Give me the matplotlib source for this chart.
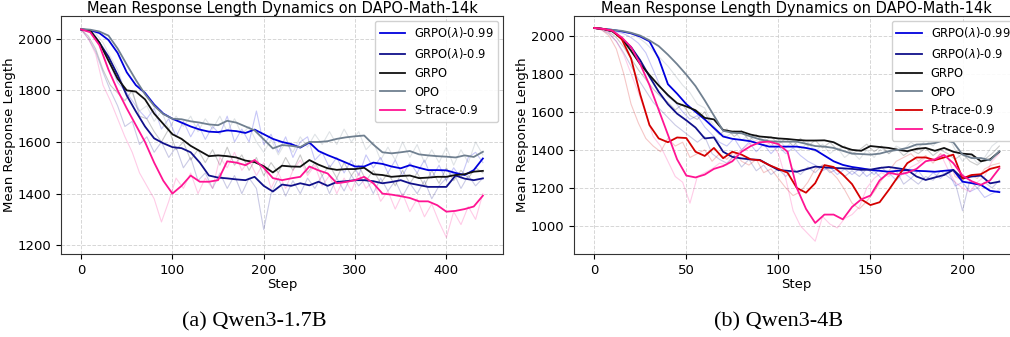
import matplotlib
matplotlib.use("Agg")
import matplotlib.pyplot as plt
import numpy as np

# ---- data ----
# left panel: Qwen3-1.7B, smoothed every 10 steps, raw every 8 steps
steps_a = np.arange(0, 441, 10)
raw_steps_a = np.arange(0, 441, 8)

opo_a = [2038, 2035, 2028, 2012, 1962, 1900, 1840, 1785, 1740, 1708, 1690, 1688, 1680, 1675, 1668,
         1665, 1682, 1675, 1660, 1645, 1610, 1575, 1588, 1585, 1580, 1600, 1600, 1603, 1612, 1618,
         1622, 1625, 1590, 1560, 1556, 1560, 1565, 1552, 1548, 1545, 1543, 1540, 1548, 1542, 1562]
g099_a = [2036, 2033, 2022, 1995, 1945, 1870, 1820, 1790, 1745, 1710, 1690, 1675, 1660, 1648, 1640,
          1638, 1645, 1642, 1635, 1648, 1630, 1612, 1600, 1592, 1578, 1598, 1565, 1549, 1535, 1520,
          1505, 1505, 1520, 1515, 1505, 1498, 1510, 1500, 1491, 1491, 1490, 1480, 1472, 1491, 1536]
g09_a = [2036, 2030, 1985, 1930, 1860, 1780, 1718, 1660, 1614, 1595, 1580, 1576, 1560, 1520, 1470,
         1462, 1459, 1455, 1452, 1465, 1430, 1408, 1435, 1430, 1440, 1432, 1446, 1430, 1445, 1448,
         1452, 1452, 1448, 1440, 1445, 1452, 1440, 1433, 1426, 1426, 1426, 1470, 1458, 1452, 1459]
grpo_a = [2036, 2032, 1985, 1915, 1845, 1800, 1795, 1765, 1710, 1670, 1630, 1612, 1585, 1565, 1545,
          1548, 1545, 1540, 1528, 1522, 1506, 1482, 1508, 1505, 1504, 1530, 1512, 1498, 1492, 1495,
          1495, 1500, 1475, 1472, 1465, 1468, 1470, 1460, 1462, 1465, 1465, 1472, 1475, 1485, 1488]
strace_a = [2036, 2025, 1975, 1880, 1800, 1730, 1665, 1600, 1520, 1450, 1400, 1430, 1470, 1446, 1446,
            1452, 1525, 1520, 1510, 1530, 1500, 1460, 1452, 1459, 1465, 1505, 1490, 1478, 1440, 1445,
            1452, 1465, 1440, 1400, 1396, 1390, 1383, 1370, 1370, 1355, 1330, 1333, 1340, 1350, 1392]

opo_a_raw = [2040, 2030, 2020, 1985, 1930, 1880, 1800, 1790, 1720, 1740, 1680, 1720, 1650, 1700,
             1660, 1700, 1640, 1690, 1650, 1700, 1640, 1690, 1630, 1660, 1600, 1560, 1610, 1550,
             1600, 1560, 1620, 1580, 1630, 1590, 1640, 1590, 1650, 1600, 1640, 1570, 1600, 1530,
             1580, 1530, 1600, 1540, 1590, 1520, 1570, 1520, 1580, 1510, 1570, 1520, 1600, 1550]
g099_a_raw = [2036, 2030, 2010, 1960, 1900, 1830, 1800, 1760, 1720, 1690, 1730, 1650, 1690, 1620,
              1680, 1620, 1670, 1610, 1660, 1630, 1700, 1600, 1650, 1600, 1720, 1590, 1630, 1560,
              1620, 1540, 1600, 1620, 1530, 1560, 1500, 1540, 1480, 1530, 1470, 1550, 1500, 1540,
              1480, 1530, 1470, 1520, 1480, 1530, 1460, 1510, 1450, 1500, 1460, 1540, 1560, 1520]
g09_a_raw = [2036, 2000, 1950, 1870, 1800, 1740, 1660, 1680, 1590, 1620, 1560, 1600, 1540, 1580,
             1500, 1540, 1450, 1480, 1420, 1480, 1420, 1470, 1400, 1460, 1420, 1260, 1400, 1460,
             1390, 1450, 1400, 1460, 1420, 1470, 1400, 1460, 1410, 1470, 1430, 1460, 1400, 1460,
             1410, 1450, 1390, 1440, 1400, 1450, 1380, 1430, 1460, 1480, 1420, 1470, 1430, 1460]
grpo_a_raw = [2036, 2010, 1960, 1880, 1820, 1790, 1760, 1800, 1700, 1690, 1640, 1600, 1650, 1570,
              1600, 1530, 1570, 1520, 1570, 1510, 1580, 1510, 1550, 1490, 1540, 1470, 1520, 1480,
              1540, 1490, 1550, 1480, 1520, 1470, 1510, 1460, 1520, 1470, 1510, 1450, 1490, 1440,
              1480, 1430, 1490, 1440, 1480, 1430, 1490, 1440, 1500, 1450, 1490, 1460, 1500, 1480]
strace_a_raw = [2036, 2000, 1940, 1820, 1760, 1690, 1620, 1560, 1480, 1430, 1380, 1290, 1370, 1460,
                1420, 1480, 1400, 1460, 1420, 1540, 1500, 1560, 1490, 1530, 1470, 1520, 1420, 1480,
                1420, 1490, 1530, 1470, 1510, 1430, 1470, 1400, 1460, 1410, 1480, 1420, 1450, 1370,
                1410, 1340, 1400, 1330, 1380, 1310, 1360, 1290, 1230, 1330, 1280, 1350, 1300, 1400]

# right panel: Qwen3-4B, smoothed every 5 steps, raw every 4 steps
steps_b = np.arange(0, 221, 5)
raw_steps_b = np.arange(0, 221, 4)

opo_b = [2040, 2035, 2030, 2025, 2015, 2000, 1975, 1945, 1900, 1850, 1795, 1735, 1660, 1580, 1500,
         1490, 1487, 1470, 1455, 1445, 1443, 1443, 1443, 1432, 1420, 1417, 1410, 1395, 1380, 1378,
         1375, 1380, 1393, 1400, 1410, 1428, 1430, 1436, 1450, 1440, 1375, 1357, 1357, 1345, 1393]
grpo_b = [2040, 2035, 2022, 1985, 1920, 1850, 1793, 1738, 1688, 1645, 1628, 1608, 1568, 1560, 1504,
          1496, 1496, 1480, 1470, 1466, 1460, 1457, 1452, 1449, 1449, 1450, 1440, 1415, 1400, 1395,
          1420, 1415, 1410, 1400, 1393, 1405, 1410, 1395, 1410, 1390, 1380, 1376, 1340, 1350, 1390]
g099_b = [2040, 2035, 2030, 2022, 2012, 1995, 1970, 1880, 1745, 1695, 1640, 1600, 1560, 1515, 1470,
          1458, 1452, 1445, 1430, 1417, 1417, 1417, 1417, 1410, 1400, 1370, 1340, 1321, 1310, 1303,
          1295, 1290, 1285, 1290, 1294, 1290, 1288, 1285, 1290, 1294, 1233, 1225, 1216, 1185, 1178]
g09_b = [2040, 2035, 2022, 1985, 1940, 1870, 1785, 1705, 1640, 1590, 1555, 1517, 1460, 1465, 1390,
         1363, 1355, 1350, 1347, 1320, 1294, 1290, 1285, 1298, 1312, 1308, 1305, 1303, 1300, 1295,
         1296, 1305, 1310, 1303, 1295, 1260, 1242, 1255, 1268, 1295, 1250, 1260, 1265, 1224, 1233]
ptrace_b = [2040, 2035, 2025, 1980, 1880, 1690, 1530, 1460, 1440, 1465, 1462, 1390, 1368, 1410, 1356,
            1390, 1375, 1350, 1345, 1320, 1300, 1280, 1200, 1175, 1225, 1320, 1310, 1270, 1220, 1140,
            1110, 1125, 1190, 1260, 1330, 1360, 1360, 1346, 1360, 1375, 1250, 1268, 1272, 1300, 1312]
strace_b = [2040, 2035, 2025, 1990, 1940, 1850, 1740, 1610, 1480, 1350, 1265, 1255, 1270, 1300, 1315,
            1340, 1390, 1420, 1440, 1443, 1430, 1390, 1200, 1090, 1016, 1060, 1060, 1035, 1100, 1140,
            1160, 1240, 1280, 1270, 1280, 1300, 1340, 1350, 1373, 1330, 1265, 1235, 1216, 1240, 1303]

opo_b_raw = [2040, 2035, 2032, 2028, 2020, 2010, 1990, 1960, 1920, 1880, 1840, 1790, 1740, 1700,
             1640, 1620, 1540, 1490, 1470, 1500, 1450, 1480, 1430, 1470, 1420, 1460, 1410, 1450,
             1400, 1440, 1390, 1430, 1380, 1410, 1360, 1390, 1350, 1400, 1360, 1410, 1380, 1420,
             1400, 1440, 1410, 1450, 1420, 1470, 1480, 1400, 1340, 1380, 1330, 1360, 1420, 1450]
grpo_b_raw = [2040, 2035, 2020, 1990, 1940, 1880, 1820, 1770, 1720, 1680, 1650, 1610, 1640, 1580,
              1560, 1600, 1520, 1480, 1510, 1470, 1500, 1450, 1480, 1440, 1470, 1430, 1460, 1420,
              1460, 1420, 1450, 1410, 1440, 1400, 1420, 1380, 1400, 1430, 1390, 1420, 1380, 1410,
              1370, 1400, 1380, 1410, 1370, 1400, 1380, 1350, 1380, 1340, 1320, 1350, 1380, 1420]
g099_b_raw = [2040, 2035, 2028, 2020, 2010, 1990, 1960, 1910, 1820, 1730, 1680, 1650, 1600, 1560,
              1580, 1520, 1480, 1440, 1420, 1460, 1400, 1440, 1390, 1430, 1380, 1420, 1380, 1410,
              1370, 1340, 1320, 1290, 1310, 1270, 1300, 1270, 1300, 1260, 1290, 1250, 1280, 1240,
              1280, 1250, 1290, 1240, 1280, 1250, 1290, 1210, 1230, 1180, 1200, 1150, 1170, 1190]
g09_b_raw = [2040, 2030, 2010, 1970, 1910, 1840, 1770, 1710, 1650, 1610, 1570, 1530, 1500, 1470,
             1440, 1470, 1380, 1350, 1330, 1370, 1310, 1350, 1290, 1320, 1270, 1300, 1260, 1300,
             1270, 1310, 1280, 1320, 1280, 1300, 1260, 1290, 1260, 1300, 1270, 1310, 1270, 1290,
             1220, 1250, 1220, 1260, 1240, 1290, 1260, 1230, 1080, 1240, 1200, 1230, 1200, 1240]
ptrace_b_raw = [2040, 2030, 2000, 1930, 1800, 1640, 1540, 1460, 1420, 1390, 1460, 1420, 1440, 1360,
                1380, 1400, 1340, 1380, 1350, 1390, 1340, 1320, 1350, 1280, 1300, 1250, 1200, 1160,
                1180, 1230, 1300, 1320, 1290, 1250, 1190, 1120, 1090, 1130, 1180, 1240, 1290, 1340,
                1360, 1380, 1340, 1370, 1330, 1380, 1360, 1260, 1240, 1270, 1250, 1300, 1320, 1330]
strace_b_raw = [2040, 2032, 2015, 1970, 1900, 1800, 1700, 1590, 1470, 1420, 1340, 1260, 1230, 1120,
                1260, 1280, 1300, 1330, 1320, 1370, 1400, 1430, 1450, 1420, 1440, 1380, 1250, 1080,
                1000, 960, 920, 1050, 1010, 990, 1040, 1060, 1100, 1200, 1250, 1280, 1260, 1300,
                1270, 1310, 1330, 1360, 1340, 1380, 1300, 1230, 1200, 1180, 1230, 1260, 1340, 1380]

# ---- styles ----
c_g099 = '#0000dd'
c_g09 = '#10108a'
c_grpo = '#111111'
c_opo = '#708090'
c_ptr = '#d40000'
c_str = '#ff1493'

fig = plt.figure(figsize=(10.10, 3.37), dpi=100)
ax1 = fig.add_axes([0.0604, 0.2463, 0.4376, 0.7062])
ax2 = fig.add_axes([0.5683, 0.2463, 0.4412, 0.7062])

left_series = [
    ('GRPO($\\lambda$)-0.99', g099_a, g099_a_raw, c_g099),
    ('GRPO($\\lambda$)-0.9', g09_a, g09_a_raw, c_g09),
    ('GRPO', grpo_a, grpo_a_raw, c_grpo),
    ('OPO', opo_a, opo_a_raw, c_opo),
    ('S-trace-0.9', strace_a, strace_a_raw, c_str),
]
right_series = [
    ('GRPO($\\lambda$)-0.99', g099_b, g099_b_raw, c_g099),
    ('GRPO($\\lambda$)-0.9', g09_b, g09_b_raw, c_g09),
    ('GRPO', grpo_b, grpo_b_raw, c_grpo),
    ('OPO', opo_b, opo_b_raw, c_opo),
    ('P-trace-0.9', ptrace_b, ptrace_b_raw, c_ptr),
    ('S-trace-0.9', strace_b, strace_b_raw, c_str),
]

for ax, series, xs, xr in [(ax1, left_series, steps_a, raw_steps_a),
                           (ax2, right_series, steps_b, raw_steps_b)]:
    for name, smooth, raw, col in series:
        ax.plot(xr, raw, color=col, lw=0.8, alpha=0.22)
    for name, smooth, raw, col in series:
        ax.plot(xs, smooth, color=col, lw=1.3, label=name)
    ax.grid(True, linestyle='--', color='#cccccc', lw=0.7, alpha=0.8)
    ax.set_title('Mean Response Length Dynamics on DAPO-Math-14k', fontsize=10.5, pad=2)
    ax.set_xlabel('Step', fontsize=9.5, labelpad=1)
    ax.set_ylabel('Mean Response Length', fontsize=9.5, labelpad=1)
    ax.tick_params(labelsize=9.5)
    for sp in ax.spines.values():
        sp.set_color('#333333')
    ax.legend(loc='upper right', fontsize=8.3, framealpha=0.9, handlelength=2.2,
              borderaxespad=0.4, labelspacing=0.5)

ax1.set_xlim(-22, 462)
ax1.set_ylim(1166, 2088)
ax1.set_yticks([1200, 1400, 1600, 1800, 2000])
ax2.set_xlim(-11, 231)
ax2.set_ylim(853, 2103)
ax2.set_yticks([1000, 1200, 1400, 1600, 1800, 2000])

fig.text(0.2515, 0.045, '(a) Qwen3-1.7B', ha='center', va='center',
         family='Liberation Serif', fontsize=16)
fig.text(0.771, 0.045, '(b) Qwen3-4B', ha='center', va='center',
         family='Liberation Serif', fontsize=16)

fig.savefig('out.png', dpi=100)
